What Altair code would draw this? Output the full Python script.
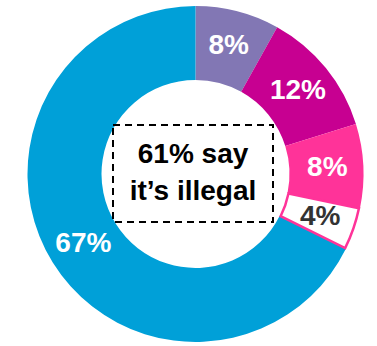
import altair as alt
import pandas as pd

categories = ["Slice A", "Slice B", "Slice C", "Slice D", "Slice E"]
values = [8, 12, 8, 4, 67]
labels = ["8%", "12%", "8%", "4%", "67%"]
colors = ["#8277B4", "#C70091", "#FF3399", "#FFFFFF", "#00A0D8"]
center_lines = ["61% say", "it\u2019s illegal"]

df = pd.DataFrame({"cat": categories, "value": values, "label": labels,
                   "idx": list(range(len(categories)))})

CX, CY = 195.5, 174
R_OUT, R_IN = 168, 94
FONT = "'Liberation Sans', Arial, sans-serif"

base = alt.Chart(df).encode(
    theta=alt.Theta("value:Q", stack=True),
    order=alt.Order("idx:Q"),
    x=alt.value(CX), y=alt.value(CY),
)

arcs = base.mark_arc(outerRadius=R_OUT, innerRadius=R_IN, strokeWidth=0).encode(
    color=alt.Color("cat:N", scale=alt.Scale(domain=categories, range=colors), legend=None)
)

outline = base.mark_arc(outerRadius=R_OUT - 1, innerRadius=R_IN + 1, fillOpacity=0,
                        stroke="#FF3399").encode(
    strokeWidth=alt.condition("datum.cat == 'Slice D'", alt.value(2.5), alt.value(0))
)

text = base.mark_text(radius=132, font=FONT, fontSize=28, fontWeight="bold",
                      align="center", baseline="middle").encode(
    text="label:N",
    color=alt.condition("datum.cat == 'Slice D'", alt.value("#333333"), alt.value("#FFFFFF")),
)

box = alt.Chart(pd.DataFrame({"a": [0]})).mark_rect(
    fill=None, stroke="#000000", strokeWidth=2, strokeDash=[7, 5]
).encode(x=alt.value(113), x2=alt.value(273), y=alt.value(125), y2=alt.value(222))

ct = pd.DataFrame({"t": center_lines, "yy": [155, 192]})
center = alt.Chart(ct).mark_text(font=FONT, fontSize=28, fontWeight="bold",
                                 color="#000000", align="center", baseline="middle").encode(
    text="t:N", x=alt.value(193), y=alt.Y("yy:Q", scale=None)
)

chart = alt.layer(arcs, outline, text, box, center).properties(
    width=377, height=346, autosize=alt.AutoSizeParams(type="none"), padding=0
).configure_view(stroke=None)

chart.save("out.html", embed_options={"renderer": "svg", "actions": False})
